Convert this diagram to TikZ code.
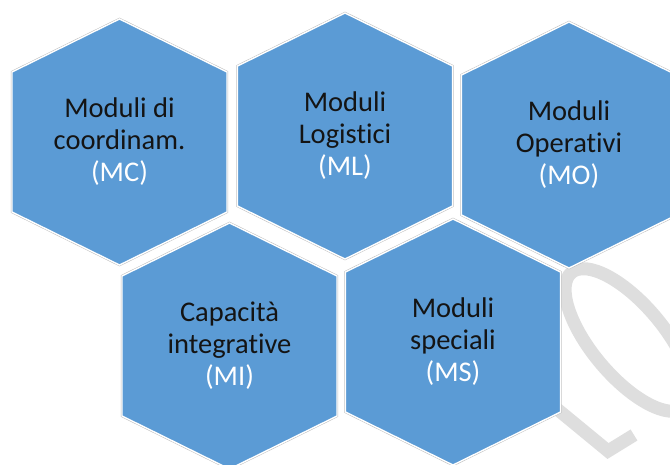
\documentclass[tikz,border=0pt]{standalone}
\usepackage{fontspec}
\setmainfont{Carlito}[Ligatures=NoCommon]
\definecolor{hexblue}{HTML}{5B9BD5}
\definecolor{wmgray}{HTML}{DEDEDE}
\definecolor{rimgray}{HTML}{BDBDBD}
\begin{document}
\begin{tikzpicture}[x=1pt,y=-1pt,
  hexrim/.style={draw=rimgray, line width=2.4pt, line join=miter},
  hexbody/.style={fill=hexblue},
  hexedge/.style={draw=white, line width=1.4pt, line join=miter},
  hextext/.style={font=\fontsize{28.5}{32}\selectfont, text=black!92, align=center},
  wm/.style={draw=wmgray, line width=13pt}]
\useasboundingbox (0,0) rectangle (670,464);
% watermark fragments
\draw[wm] (628,340) ellipse [x radius=88, y radius=36, rotate=-50];
\draw[wm, line join=miter] (540,395) -- (608,451) -- (634,435);
% hexagons
\foreach \n/\cx/\cy/\ta/\tb/\tc in {
  mc/119.5/142/Moduli di/coordinam./(MC),
  ml/345/136/Moduli/Logistici/(ML),
  mo/569/145/Moduli/Operativi/(MO),
  mi/229.5/346/Capacità/integrative/(MI),
  ms/453/342/Moduli/speciali/(MS)}{
  \path[hexrim] (\cx,\cy-123) -- (\cx+107.5,\cy-70) -- (\cx+107.5,\cy+70) -- (\cx,\cy+123) -- (\cx-107.5,\cy+70) -- (\cx-107.5,\cy-70) -- cycle;
  \path[hexbody] (\cx,\cy-123) -- (\cx+107.5,\cy-70) -- (\cx+107.5,\cy+70) -- (\cx,\cy+123) -- (\cx-107.5,\cy+70) -- (\cx-107.5,\cy-70) -- cycle;
  \path[hexedge] (\cx,\cy-123) -- (\cx+107.5,\cy-70) -- (\cx+107.5,\cy+70) -- (\cx,\cy+123) -- (\cx-107.5,\cy+70) -- (\cx-107.5,\cy-70) -- cycle;
  \node[hextext] (\n) at (\cx,\cy) {\ta\\\tb\\\textcolor{white}{\tc}};
}
\end{tikzpicture}
\end{document}
